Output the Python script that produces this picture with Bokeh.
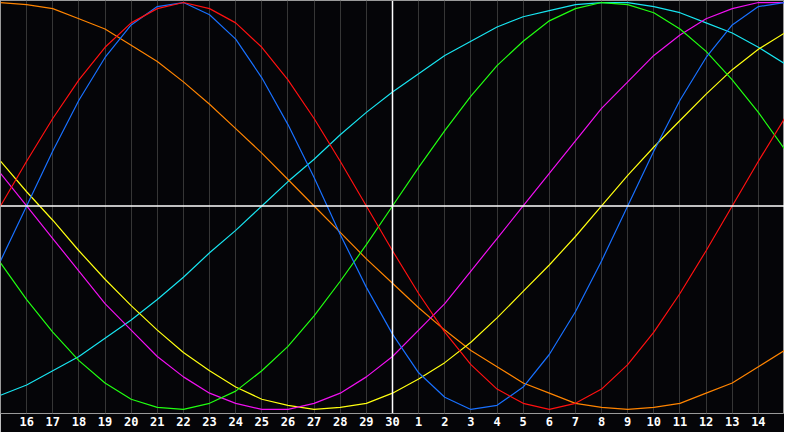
from bokeh.plotting import figure
from bokeh.models import Range1d, Span, FixedTicker
from bokeh.embed import file_html
from bokeh.resources import INLINE

# days shown along the bottom (15th of one month to 15th of the next)
days = [15, 16, 17, 18, 19, 20, 21, 22, 23, 24, 25, 26, 27, 28, 29, 30,
        1, 2, 3, 4, 5, 6, 7, 8, 9, 10, 11, 12, 13, 14, 15]

# cycle values per day, in percent
physical = [-27, 0, 27, 52, 73, 89, 98, 100, 94, 82, 63, 40, 14, -14, -40, -63,
            -82, -94, -100, -98, -89, -73, -52, -27, 0, 27, 52, 73, 89, 98, 100]
emotional = [0, 22, 43, 62, 78, 90, 97, 100, 97, 90, 78, 62, 43, 22, 0, -22,
             -43, -62, -78, -90, -97, -100, -97, -90, -78, -62, -43, -22, 0, 22, 43]
intellectual = [-28, -46, -62, -76, -87, -95, -99, -100, -97, -91, -81, -69, -54, -37, -19, 0,
                19, 37, 54, 69, 81, 91, 97, 100, 99, 95, 87, 76, 62, 46, 28]
intuitive = [16, 0, -16, -32, -48, -61, -74, -84, -92, -97, -100, -100, -97, -92, -84, -74,
             -61, -48, -32, -16, 0, 16, 32, 48, 61, 74, 84, 92, 97, 100, 100]
aesthetic = [22, 7, -7, -22, -36, -49, -61, -72, -81, -89, -95, -98, -100, -99, -97, -92,
             -85, -77, -67, -55, -42, -29, -15, 0, 15, 29, 42, 55, 67, 77, 85]
awareness = [100, 99, 97, 92, 87, 79, 71, 61, 50, 38, 26, 13, 0, -13, -26, -38,
             -50, -61, -71, -79, -87, -92, -97, -99, -100, -99, -97, -92, -87, -79, -71]
spiritual = [-93, -88, -81, -74, -65, -56, -46, -35, -23, -12, 0, 12, 23, 35, 46, 56,
             65, 74, 81, 88, 93, 96, 99, 100, 100, 98, 95, 90, 85, 78, 70]

x = list(range(len(days)))
today = 15  # index of the 30th

p = figure(width=784, height=432, output_backend="svg", toolbar_location=None,
           x_range=Range1d(0, 30), y_range=Range1d(-102, 101),
           min_border_left=0, min_border_right=0, min_border_top=0, min_border_bottom=19)
p.background_fill_color = "#050508"
p.border_fill_color = "#050508"
p.outline_line_color = "#9a9a9a"

p.yaxis.visible = False
p.ygrid.visible = False

p.xaxis.ticker = FixedTicker(ticks=x[1:-1])
p.xaxis.major_label_overrides = {i: str(d) for i, d in zip(x, days)}
p.xaxis.major_tick_out = 0
p.xaxis.major_tick_in = 0
p.xaxis.minor_tick_out = 0
p.xaxis.axis_line_color = None
p.xaxis.major_label_standoff = 3
p.xaxis.major_label_text_color = "white"
p.xaxis.major_label_text_font = "DejaVu Sans Mono"
p.xaxis.major_label_text_font_style = "bold"
p.xaxis.major_label_text_font_size = "12px"
p.xgrid.ticker = FixedTicker(ticks=x[1:-1])
p.xgrid.grid_line_color = "#363636"
p.xgrid.grid_line_alpha = 1

p.add_layout(Span(location=0, dimension="width", line_color="white", line_width=1.5))
p.add_layout(Span(location=today, dimension="height", line_color="white", line_width=1.5))

series = [(spiritual, "#18e4f0"), (awareness, "#ff8400"), (aesthetic, "#ffff10"),
          (intuitive, "#f010f0"), (intellectual, "#20ff10"), (physical, "#1870ff"),
          (emotional, "#ff1010")]
for vals, col in series:
    p.line(x, vals, line_color=col, line_width=1.2)

open("out.html", "w").write(file_html(p, INLINE))
